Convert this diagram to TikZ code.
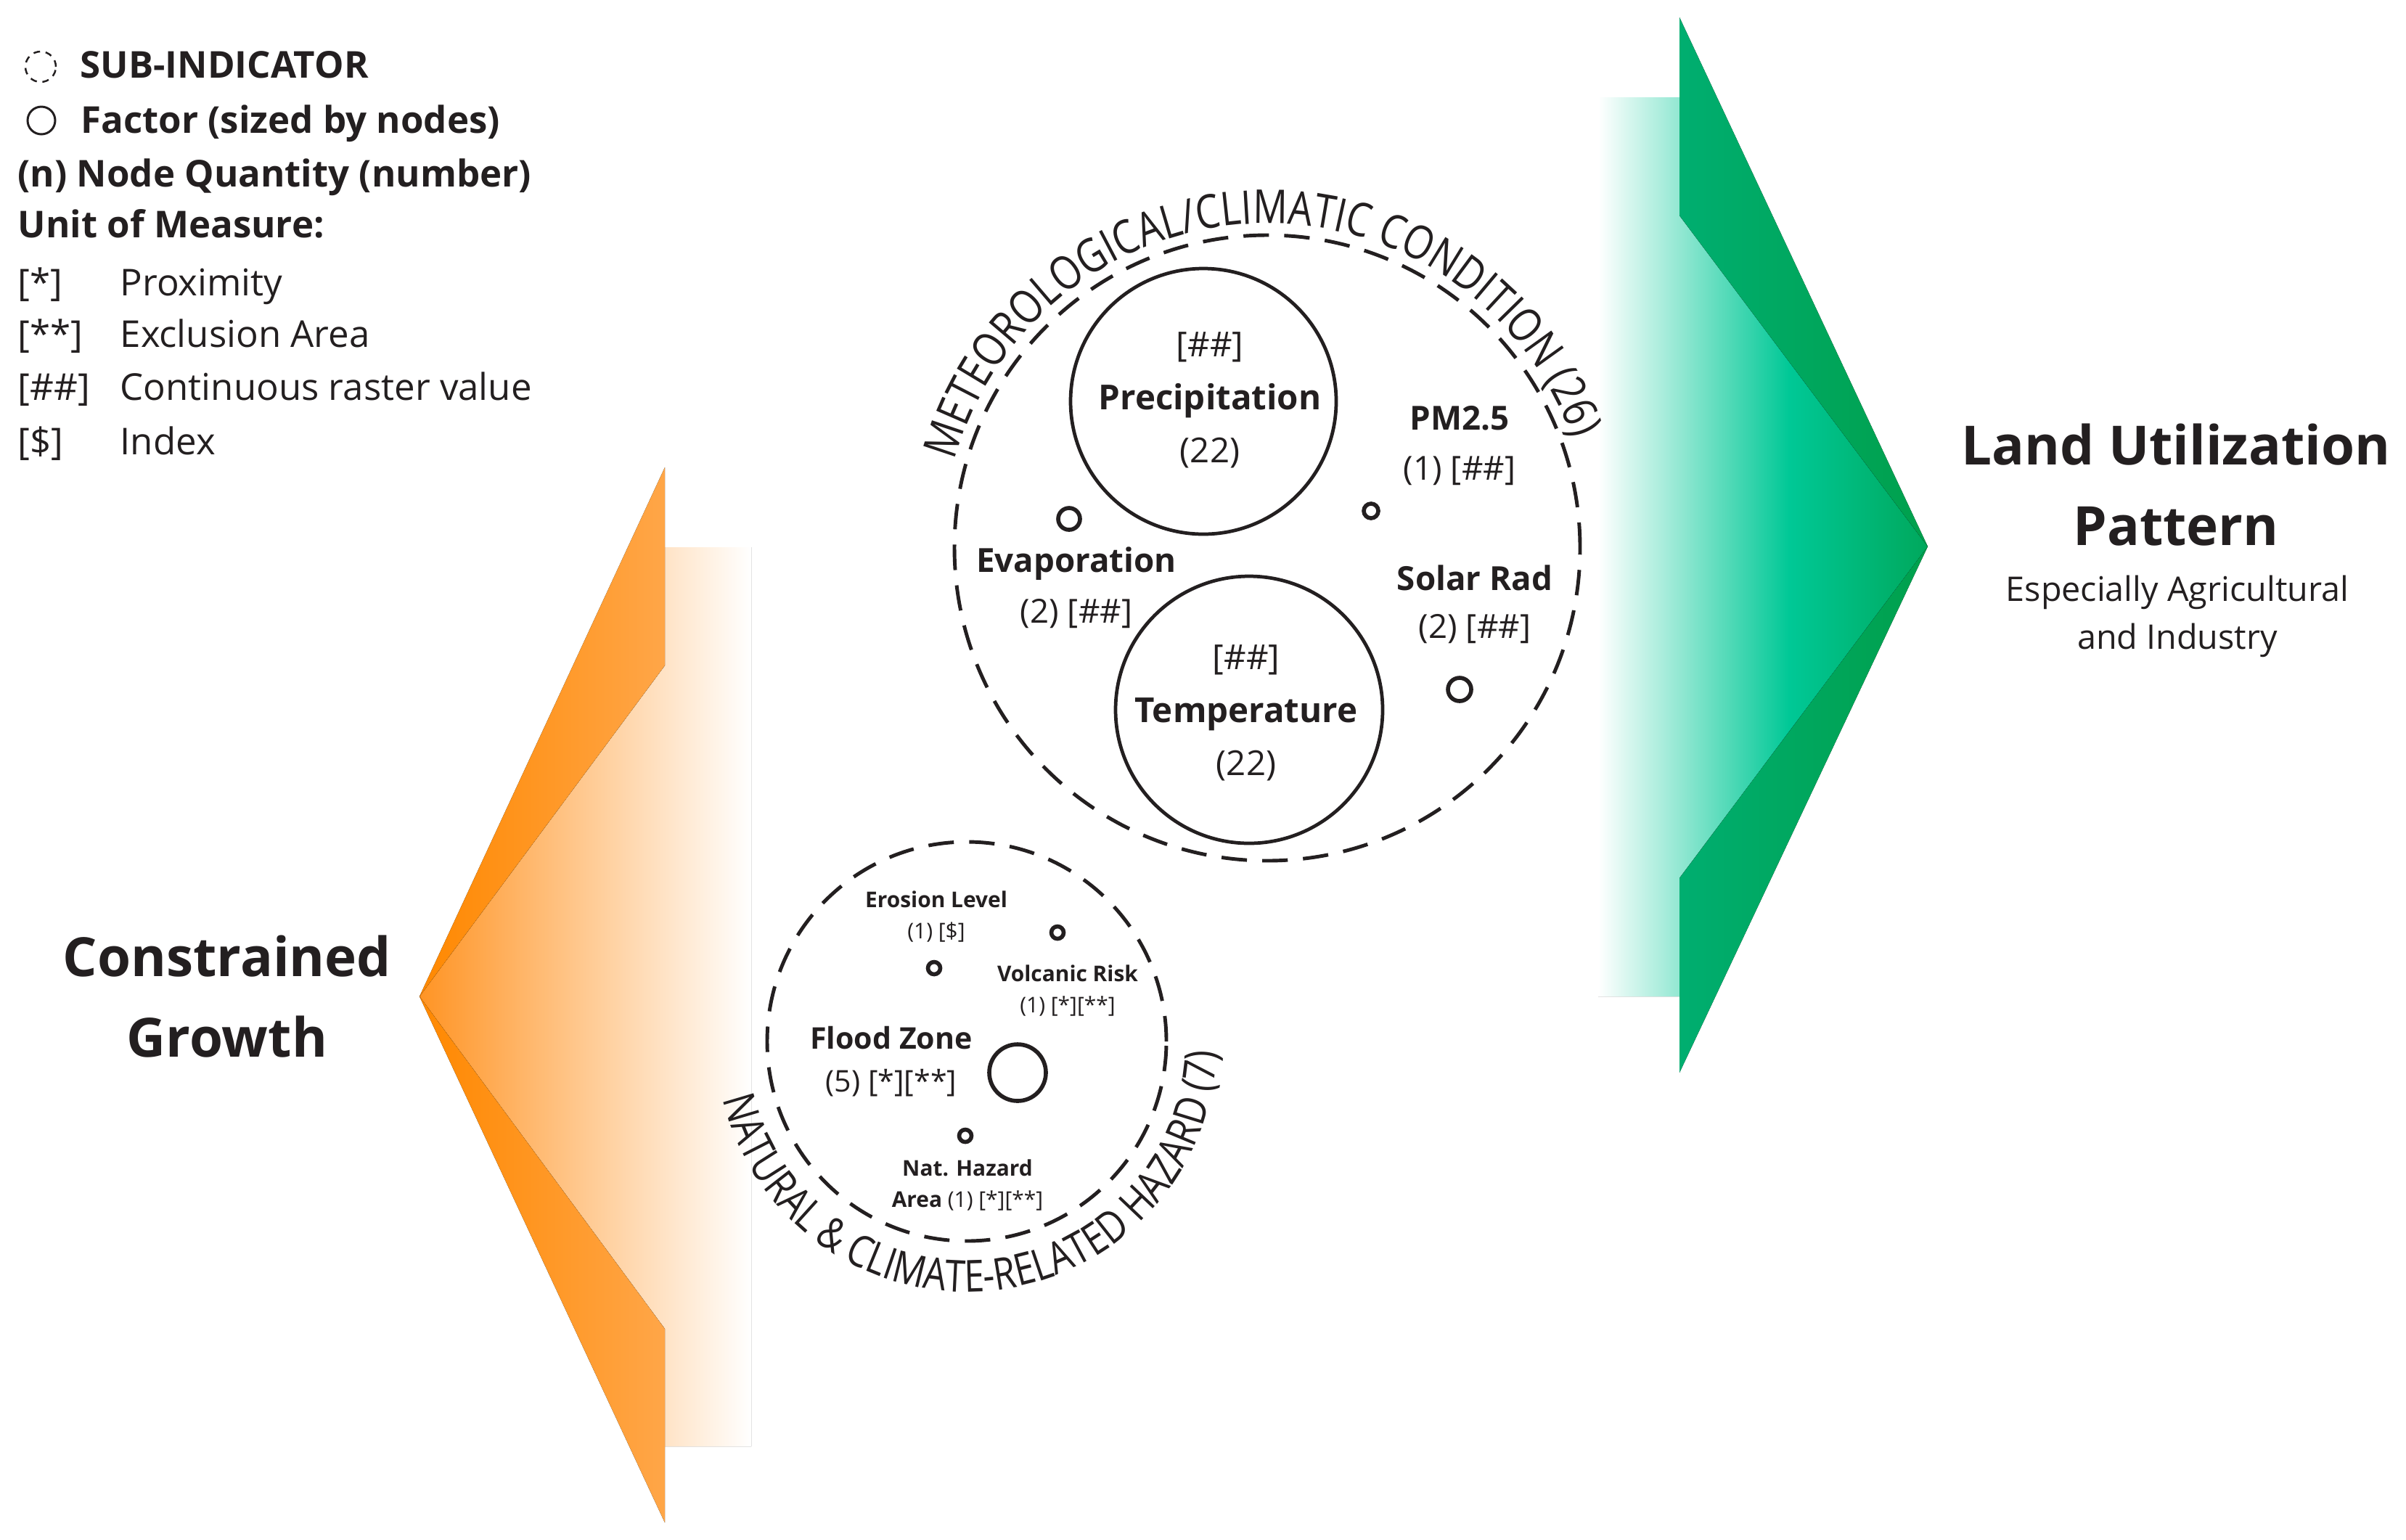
\documentclass[tikz,border=0pt]{standalone}
\usepackage{fontspec}
\setmainfont{Open Sans}
\newfontfamily\arcfamily[FakeStretch=0.82]{Open Sans}
\usetikzlibrary{calc,decorations.text}

\definecolor{ink}{RGB}{35,31,32}
\definecolor{orangeA}{RGB}{255,136,0}
\definecolor{orangeB}{RGB}{255,166,72}
\definecolor{orangeBody}{RGB}{255,148,36}
\definecolor{greenA}{RGB}{0,174,112}
\definecolor{greenB}{RGB}{0,160,76}
\definecolor{greenMid}{RGB}{0,200,150}
\definecolor{greenDark}{RGB}{0,168,92}

\pgfdeclarehorizontalshading{greenbody}{100bp}{color(0bp)=(white); color(25bp)=(white); color(54bp)=(greenMid); color(75bp)=(greenDark); color(100bp)=(greenDark)}

\newcommand{\metfont}{\arcfamily\fontsize{18.3}{21}\selectfont}
\newcommand{\hazfont}{\arcfamily\fontsize{17.3}{20}\selectfont}

\begin{document}
\begin{tikzpicture}[
        subind/.style={circle, draw=ink, line width=1.4pt, dash pattern=on 10pt off 6pt, inner sep=0pt},
        factor/.style={circle, draw=ink, line width=1.35pt, inner sep=0pt},
        ring/.style={circle, draw=ink, line width=1.6pt, inner sep=0pt},
        lbl/.style={align=center, text=ink, inner sep=0pt},
        legend/.style={anchor=west, text=ink, inner sep=0pt, text height=.72em, text depth=0pt,
            font=\fontsize{14.5}{20}\selectfont},
        legendhead/.style={legend, font=\bfseries\fontsize{14.5}{20}\selectfont},
        title/.style={lbl, font=\bfseries\fontsize{21.2}{31.8}\selectfont}
    ]

    \useasboundingbox (0,0) rectangle (33.15,-21.21);

    % =========================
    % Legend
    % =========================
    \node[subind, line width=0.7pt, dash pattern=on 2.6pt off 2.2pt, minimum size=0.42cm] (keysub) at (0.56,-0.92) {};
    \node[legendhead] (keysubtxt) at (1.10,-0.95) {SUB-INDICATOR};
    \node[ring, line width=0.85pt, minimum size=0.38cm] (keyfac) at (0.57,-1.66) {};
    \node[legendhead] (keyfactxt) at (1.11,-1.71) {Factor (sized by nodes)};
    \node[legendhead] (keyqty) at (0.24,-2.45) {(n) Node Quantity (number)};
    \node[legendhead] (keyunit) at (0.24,-3.15) {Unit of Measure:};

    \node[legend] (u1) at (0.24,-3.95) {[*]};
    \node[legend] (u1txt) at (1.65,-3.95) {Proximity};
    \node[legend] (u2) at (0.24,-4.66) {[**]};
    \node[legend] (u2txt) at (1.65,-4.66) {Exclusion Area};
    \node[legend] (u3) at (0.24,-5.39) {[\#\#]};
    \node[legend] (u3txt) at (1.65,-5.39) {Continuous raster value};
    \node[legend] (u4) at (0.24,-6.14) {[\$]};
    \node[legend] (u4txt) at (1.65,-6.14) {Index};

    % =========================
    % Constrained growth arrow
    % =========================
    \coordinate (otip) at (5.78,-13.73);
    \fill[left color=orangeBody, right color=white]
        (otip) -- (9.16,-9.17) -- (9.16,-7.54) -- (10.35,-7.54) -- (10.35,-19.93)
        -- (9.16,-19.93) -- (9.16,-18.31) -- cycle;
    \fill[left color=orangeA, right color=orangeB] (9.16,-6.44) -- (otip) -- (9.16,-9.17) -- cycle;
    \fill[left color=orangeA, right color=orangeB] (9.16,-20.98) -- (otip) -- (9.16,-18.31) -- cycle;

    \node[title] (constr) at (3.13,-13.73) {Constrained\\Growth};

    % =========================
    % Land utilization arrow
    % =========================
    \coordinate (gtip) at (26.56,-7.53);
    \fill[shading=greenbody]
        (22.02,-1.34) -- (23.14,-1.34) -- (23.14,-2.97) -- (gtip) -- (23.14,-12.10)
        -- (23.14,-13.73) -- (22.02,-13.73) -- cycle;
    \fill[left color=greenA, right color=greenB] (23.14,-0.24) -- (gtip) -- (23.14,-2.97) -- cycle;
    \fill[left color=greenA, right color=greenB] (23.14,-14.78) -- (gtip) -- (23.14,-12.10) -- cycle;

    \node[title] (landuse) at (29.98,-6.68) {Land Utilization\\Pattern};
    \node[lbl, font=\fontsize{13.3}{18.8}\selectfont] (landsub) at (30.00,-8.49) {Especially Agricultural\\and Industry};

    % =========================
    % Meteorological / climatic condition
    % =========================
    \node[subind, minimum size=8.62cm] (met) at (17.46,-7.55) {};
    \path[decorate, decoration={text along path, text align=center, text color=ink,
            text={|\metfont|METEOROLOGICAL/CLIMATIC CONDITION (26)}}]
        ($(met)+(168:4.47)$) arc[start angle=168, end angle=16, radius=4.47];

    \node[factor, minimum size=3.66cm] (precip) at (16.58,-5.53) {};
    \node[lbl, font=\fontsize{13.5}{20.8}\selectfont] (preciptxt) at (16.67,-5.51) {[\#\#]\\\textbf{Precipitation}\\(22)};
    \node[factor, minimum size=3.68cm] (temp) at (17.21,-9.78) {};
    \node[lbl, font=\fontsize{13.5}{20.8}\selectfont] (temptxt) at (17.17,-9.82) {[\#\#]\\\textbf{Temperature}\\(22)};

    \node[ring, minimum size=0.30cm] (evap) at (14.73,-7.15) {};
    \node[lbl, font=\fontsize{13}{19.9}\selectfont] (evaptxt) at (14.83,-8.10) {\textbf{Evaporation}\\(2) [\#\#]};
    \node[ring, minimum size=0.20cm] (pm) at (18.89,-7.04) {};
    \node[lbl, font=\fontsize{13}{19.4}\selectfont] (pmtxt) at (20.11,-6.14) {\textbf{PM2.5}\\(1) [\#\#]};
    \node[ring, minimum size=0.32cm] (solar) at (20.11,-9.50) {};
    \node[lbl, font=\fontsize{13}{18.8}\selectfont] (solartxt) at (20.32,-8.33) {\textbf{Solar Rad}\\(2) [\#\#]};

    % =========================
    % Natural & climate-related hazard
    % =========================
    \node[subind, minimum size=5.50cm] (haz) at (13.32,-14.35) {};
    \path[decorate, decoration={text along path, text align=center, text color=ink,
            text={|\hazfont|NATURAL {\&} CLIMATE-RELATED HAZARD (7)}}]
        ($(haz)+(170:3.45)$) arc[start angle=170, end angle=381, radius=3.45];

    \node[lbl, font=\fontsize{8.5}{12.5}\selectfont] (erotxt) at (12.90,-12.63) {\textbf{Erosion Level}\\(1) [\$]};
    \node[ring, minimum size=0.17cm] (ero) at (12.87,-13.34) {};
    \node[ring, minimum size=0.17cm] (volc) at (14.57,-12.85) {};
    \node[lbl, font=\fontsize{8.5}{12.5}\selectfont] (volctxt) at (14.71,-13.65) {\textbf{Volcanic Risk}\\(1) [*][**]};
    \node[lbl, font=\fontsize{11.7}{16.8}\selectfont] (floodtxt) at (12.28,-14.63) {\textbf{Flood Zone}\\(5) [*][**]};
    \node[ring, minimum size=0.78cm] (flood) at (14.02,-14.78) {};
    \node[ring, minimum size=0.17cm] (nath) at (13.30,-15.65) {};
    \node[lbl, font=\fontsize{8.5}{12.5}\selectfont] (nathtxt) at (13.33,-16.33) {\textbf{Nat. Hazard}\\\textbf{Area} (1) [*][**]};

\end{tikzpicture}
\end{document}
